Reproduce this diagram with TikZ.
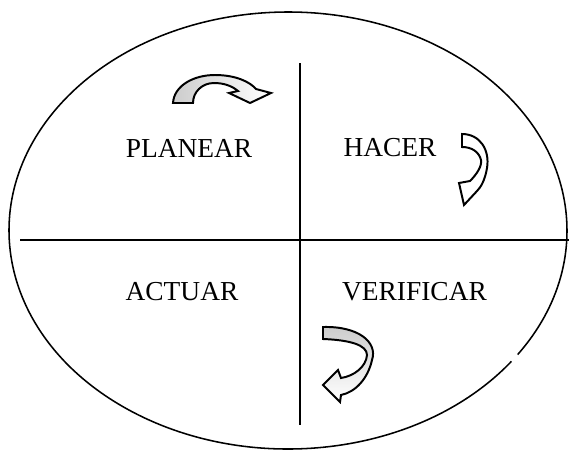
\documentclass[tikz,border=0pt]{standalone}
\usepackage{fontspec}
\setmainfont{Liberation Serif}
\usepackage{tikz}

\begin{document}
\begin{tikzpicture}[x=0.025cm,y=-0.025cm,
    fase/.style={font=\fontsize{19.5}{22}\selectfont},
    flecha/.style={draw=black,line width=1.4pt,line join=miter}]
  \useasboundingbox (0,0) rectangle (569,449);
  \coordinate (C) at (288,230.5);
  \draw[line width=1.1pt] (C) ++(36.8:279 and 218.5) arc (36.8:394.6:279 and 218.5);
  \coordinate (W) at (20,240);
  \coordinate (E) at (569,240);
  \coordinate (N) at (300,63);
  \coordinate (S) at (300,425);
  \draw[line width=1.6pt] (W)--(E);
  \draw[line width=1.6pt] (N)--(S);
  \node[fase] (planear) at (189,148) {PLANEAR};
  \node[fase] (hacer) at (390,148) {HACER};
  \node[fase] (actuar) at (182,291.5) {ACTUAR};
  \node[fase] (verificar) at (414.5,291.5) {VERIFICAR};
  % flecha de arriba
  \draw[flecha,left color=gray!40,middle color=white,right color=white]
    (173,103) .. controls (174,86) and (193,75) .. (215,75)
    .. controls (236,75) and (250,82) .. (256,89)
    -- (271,93) -- (250,103) -- (229,93) -- (238,91)
    .. controls (232,86) and (224,83) .. (214,83)
    .. controls (202,83) and (193,92) .. (193,103) -- cycle;
  % flecha junto a HACER
  \draw[flecha,fill=white]
    (462,134) .. controls (480,134) and (490,150) .. (487,168)
    .. controls (485,180) and (481,187) .. (477,191)
    -- (464,205) -- (459,183) -- (470,181)
    .. controls (477,174) and (482,166) .. (481,160)
    .. controls (479,152) and (472,147) .. (462,147) -- cycle;
  % flecha junto a VERIFICAR
  \draw[flecha,top color=gray!40,middle color=white,bottom color=white]
    (323,327) .. controls (358,326) and (378,342) .. (372,360)
    .. controls (368,378) and (356,392) .. (341,395)
    -- (340,402) -- (323,385) -- (338,370) -- (341,378)
    .. controls (354,376) and (366,367) .. (367,355)
    .. controls (367,345) and (350,340) .. (323,339) -- cycle;
\end{tikzpicture}
\end{document}
